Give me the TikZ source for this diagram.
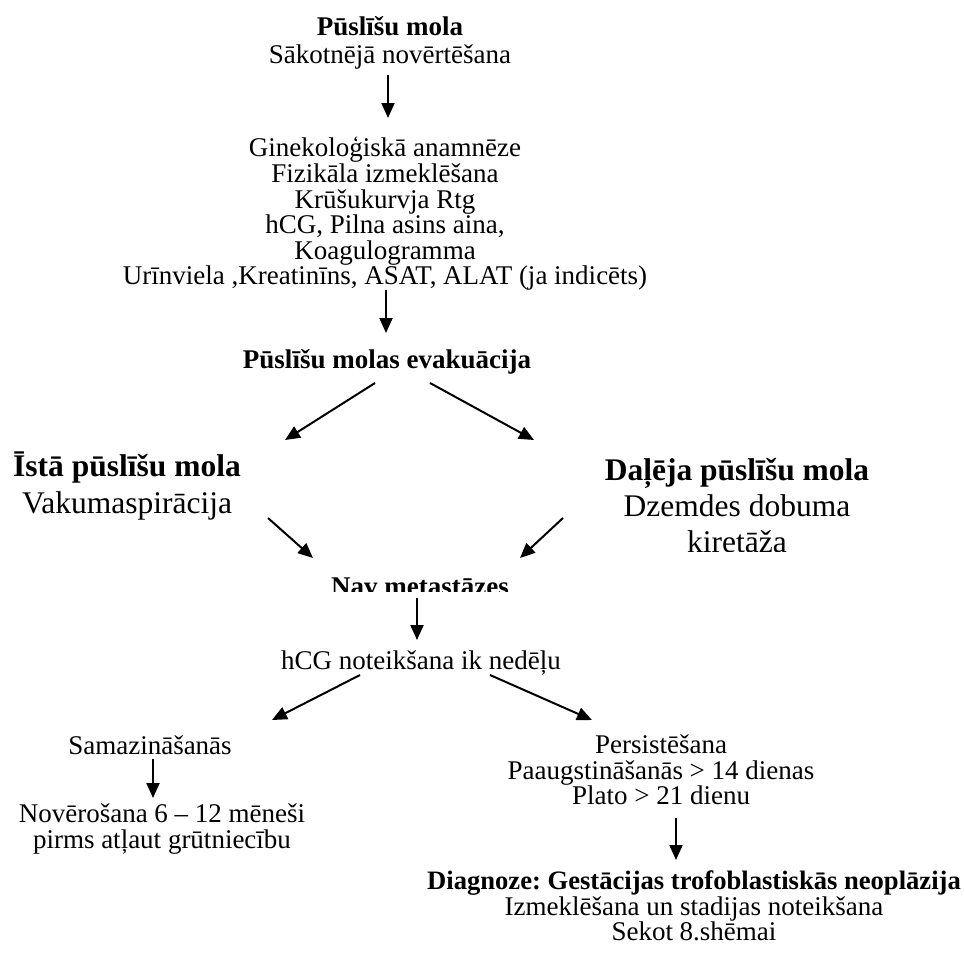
\documentclass[tikz,border=0pt]{standalone}
\usepackage{fontspec}
\setmainfont{Liberation Serif}
\usetikzlibrary{arrows.meta}
\frenchspacing
\begin{document}
\begin{tikzpicture}[x=1pt,y=-1pt,
  txt/.style={align=center, inner sep=0pt, font=\fontsize{27}{25.6}\selectfont},
  bigtxt/.style={align=center, inner sep=0pt, font=\fontsize{31.5}{37}\selectfont},
  arr/.style={line width=2pt, -{Triangle[length=15pt,width=13pt]}}]
\useasboundingbox (0,0) rectangle (964,975);

% text blocks
\node[txt, font=\fontsize{27}{27.5}\selectfont] (start) at (390,43) {\textbf{Pūslīšu mola}\\Sākotnējā novērtēšana};
\node[txt] (exam) at (385,214) {Ginekoloģiskā anamnēze\\Fizikāla izmeklēšana\\Krūšukurvja Rtg\\hCG, Pilna asins aina,\\Koagulogramma\\Urīnviela ,Kreatinīns, ASAT, ALAT (ja indicēts)};
\node[txt] (evac) at (387,362) {\textbf{Pūslīšu molas evakuācija}};
\node[bigtxt] (true) at (127,486) {\textbf{Īstā pūslīšu mola}\\Vakumaspirācija};
% text frames that cut off their last line
\begin{scope}
  \clip (0,0) rectangle (964,551.5);
  \node[bigtxt, font=\fontsize{31.5}{36}\selectfont] (partial) at (737,506) {\textbf{Daļēja pūslīšu mola}\\Dzemdes dobuma\\kiretāža};
\end{scope}
\begin{scope}
  \clip (0,0) rectangle (964,591);
  \node[txt] (nomet) at (420,587) {\textbf{Nav metastāzes}};
\end{scope}
\node[txt] (weekly) at (421,663) {hCG noteikšana ik nedēļu};
\node[txt] (decline) at (150,745) {Samazināšanās};
\node[txt] (follow) at (162,829) {Novērošana 6 – 12 mēneši\\pirms atļaut grūtniecību};
\node[txt] (persist) at (661,770) {Persistēšana\\Paaugstināšanās > 14 dienas\\Plato > 21 dienu};
\node[txt] (gtn) at (694,906) {\fontsize{26.6}{25.6}\selectfont\textbf{Diagnoze: Gestācijas trofoblastiskās neoplāzija}\\Izmeklēšana un stadijas noteikšana\\Sekot 8.shēmai};

% arrow end points
\coordinate (s1) at (388,75);  \coordinate (e1) at (388,118);
\coordinate (s2) at (386,290); \coordinate (e2) at (386,333);
\coordinate (s3) at (375,383); \coordinate (e3) at (285,440);
\coordinate (s4) at (430,383); \coordinate (e4) at (534,440);
\coordinate (s5) at (268,518); \coordinate (e5) at (313,558);
\coordinate (s6) at (563,518); \coordinate (e6) at (520,558);
\coordinate (s7) at (417,598); \coordinate (e7) at (417,640);
\coordinate (s8) at (360,675); \coordinate (e8) at (272,720);
\coordinate (s9) at (490,675); \coordinate (e9) at (592,720);
\coordinate (s10) at (153,759); \coordinate (e10) at (153,798);
\coordinate (s11) at (676,818); \coordinate (e11) at (676,860);

% connectors
\draw[arr] (s1) -- (e1);
\draw[arr] (s2) -- (e2);
\draw[arr] (s3) -- (e3);
\draw[arr] (s4) -- (e4);
\draw[arr] (s5) -- (e5);
\draw[arr] (s6) -- (e6);
\draw[arr] (s7) -- (e7);
\draw[arr] (s8) -- (e8);
\draw[arr] (s9) -- (e9);
\draw[arr] (s10) -- (e10);
\draw[arr] (s11) -- (e11);
\end{tikzpicture}
\end{document}
